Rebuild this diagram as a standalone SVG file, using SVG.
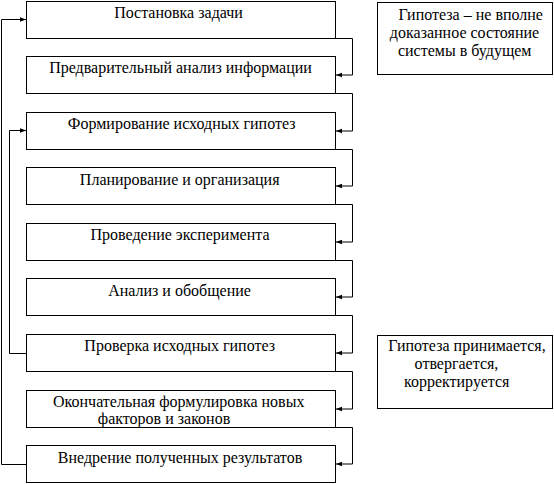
<svg xmlns="http://www.w3.org/2000/svg" width="554" height="484" viewBox="0 0 554 484">
<style>
rect{fill:#fff;stroke:#000;stroke-width:1}
.c path{fill:none;stroke:#000;stroke-width:1}
</style>
<defs>
<marker id="ah" markerUnits="userSpaceOnUse" markerWidth="6" markerHeight="6" viewBox="0 0 6 6" refX="6" refY="3" orient="auto">
<path d="M0,0.8 L6,3 L0,5.2 z" fill="#000"/>
</marker>
</defs>
<rect x="0" y="0" width="554" height="484" style="stroke:none"/>
<g font-family="'Liberation Serif', serif" font-size="16" fill="#000" text-anchor="middle">
<g id="n1"><rect x="26.5" y="1.5" width="309" height="37"/><text x="178.5" y="17.5">Постановка задачи</text></g>
<g id="n2"><rect x="26.5" y="56.5" width="309" height="37"/><text x="180.5" y="72.5">Предварительный анализ информации</text></g>
<g id="n3"><rect x="26.5" y="112.5" width="309" height="37"/><text x="181.7" y="128.5">Формирование исходных гипотез</text></g>
<g id="n4"><rect x="26.5" y="167.5" width="309" height="37"/><text x="179.7" y="184.5">Планирование и организация</text></g>
<g id="n5"><rect x="26.5" y="223.5" width="309" height="37"/><text x="180" y="239.5">Проведение эксперимента</text></g>
<g id="n6"><rect x="26.5" y="278.5" width="309" height="37"/><text x="179.5" y="295.5">Анализ и обобщение</text></g>
<g id="n7"><rect x="26.5" y="334.5" width="309" height="37"/><text x="179.7" y="351">Проверка исходных гипотез</text></g>
<g id="n8"><rect x="26.5" y="390.5" width="309" height="37"/><text x="178.7" y="406.5">Окончательная формулировка новых</text><text x="164" y="423.5">факторов и законов</text></g>
<g id="n9"><rect x="26.5" y="445.5" width="309" height="37"/><text x="180" y="462.5">Внедрение полученных результатов</text></g>
<g id="note1"><rect x="377.5" y="2.5" width="175" height="72"/><text x="470.7" y="20">Гипотеза – не вполне</text><text x="464.5" y="38">доказанное состояние</text><text x="464.7" y="56">системы в будущем</text></g>
<g id="note2"><rect x="377.5" y="335.5" width="175" height="73"/><text x="467" y="351">Гипотеза принимается,</text><text x="456.5" y="369">отвергается,</text><text x="456.7" y="387">корректируется</text></g>
</g>
<g class="c" id="connectors">
<path d="M335.5,38.5 H352.5 V75 H336" marker-end="url(#ah)"/>
<path d="M335.5,93.5 H352.5 V131 H336" marker-end="url(#ah)"/>
<path d="M335.5,149.5 H352.5 V186 H336" marker-end="url(#ah)"/>
<path d="M335.5,204.5 H352.5 V242 H336" marker-end="url(#ah)"/>
<path d="M335.5,260.5 H352.5 V297 H336" marker-end="url(#ah)"/>
<path d="M335.5,315.5 H352.5 V353 H336" marker-end="url(#ah)"/>
<path d="M335.5,371.5 H352.5 V409 H336" marker-end="url(#ah)"/>
<path d="M335.5,427.5 H352.5 V464 H336" marker-end="url(#ah)"/>
<path d="M26.5,464.5 H1.5 V19.5 H26" marker-end="url(#ah)"/>
<path d="M26.5,353.5 H9.5 V130.5 H26" marker-end="url(#ah)"/>
</g>
</svg>
